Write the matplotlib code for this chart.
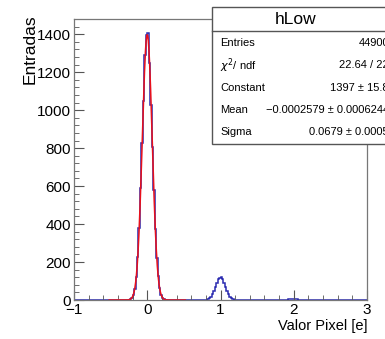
import numpy as np
import matplotlib
matplotlib.use('Agg')
import matplotlib.pyplot as plt
from matplotlib.ticker import MultipleLocator

plt.rcParams['font.family'] = ['Liberation Sans', 'DejaVu Sans']

# histogram hLow: 200 bins of 0.02 between -1 and 3
bin_lo, bin_hi, nbins = -1.0, 3.0, 200
# counts, per bin, starting at the given lower edge
peak0_start = -0.26
peak0_counts = [1, 4, 10, 25, 58, 120, 225, 380, 589, 826, 1047, 1290, 1395,
                1405, 1246, 1026, 805, 579, 372, 220, 125, 62, 27, 12, 3, 1]
peak1_start = 0.80
peak1_counts = [2, 4, 9, 17, 30, 48, 70, 90, 108, 118,
                120, 110, 92, 70, 50, 31, 17, 9, 4, 2]
peak2_start = 1.86
peak2_counts = [1, 1, 2, 3, 3, 4, 5, 4, 4, 3, 2, 2, 1, 1]

# gaus fit parameters shown in the stats box
fit_const, fit_mean, fit_sigma = 1397.0, -0.0002579, 0.0679
fit_range = (-0.52, 0.52)

stats_rows = [("Entries", "44900"),
              ("$\\chi^2$/ ndf", "22.64 / 22"),
              ("Constant", "1397 \u00b1 15.8"),
              ("Mean", "\u22120.0002579 \u00b1 0.0006244"),
              ("Sigma", "0.0679 \u00b1 0.0005")]

edges = np.linspace(bin_lo, bin_hi, nbins + 1)
counts = np.zeros(nbins)
width = (bin_hi - bin_lo) / nbins
for start, vals in [(peak0_start, peak0_counts), (peak1_start, peak1_counts),
                    (peak2_start, peak2_counts)]:
    i0 = int(round((start - bin_lo) / width))
    counts[i0:i0 + len(vals)] = vals

fig = plt.figure(figsize=(3.85, 3.39), dpi=100)
ax = fig.add_axes([74 / 385, 1 - 300 / 339, (367 - 74) / 385, (300 - 19) / 339])

ax.stairs(counts, edges, color='#2a2ab0', lw=1.1)
xf = np.linspace(fit_range[0], fit_range[1], 400)
ax.plot(xf, fit_const * np.exp(-0.5 * ((xf - fit_mean) / fit_sigma) ** 2),
        color='#e8101c', lw=1.1)

ax.set_xlim(bin_lo, bin_hi)
ax.set_ylim(0, 1480)
ax.xaxis.set_major_locator(MultipleLocator(1))
ax.xaxis.set_minor_locator(MultipleLocator(0.2))
ax.yaxis.set_major_locator(MultipleLocator(200))
ax.yaxis.set_minor_locator(MultipleLocator(40))
ax.tick_params(which='both', direction='in', top=False, right=False,
               labelsize=11, color='#555555')
ax.tick_params(which='major', length=7, pad=2)
ax.tick_params(which='minor', length=3.5)
for s in ax.spines.values():
    s.set_color('#777777')
    s.set_linewidth(0.9)
ax.set_xticks([-1, 0, 1, 2, 3])
ax.set_xticklabels(['\u22121', '0', '1', '2', '3'])

fig.text(30 / 385, 1 - 14 / 339, 'Entradas', rotation=90, ha='center', va='top',
         fontsize=12.5)
fig.text(367 / 385, 1 - 326 / 339, 'Valor Pixel [e]', ha='right', va='center',
         fontsize=10.5)

# stats box
bx0, by0, by1 = 212 / 385, 1 - 144 / 339, 1 - 7 / 339
box = plt.Rectangle((bx0, by0), 1.1 - bx0, by1 - by0, transform=fig.transFigure,
                    facecolor='white', edgecolor='#555555', lw=1.0, zorder=5)
fig.add_artist(box)
fig.add_artist(plt.Line2D([bx0, 1.1], [1 - 31 / 339] * 2, transform=fig.transFigure,
                          color='#555555', lw=1.0, zorder=6))
fig.text(296 / 385, 1 - 19 / 339, 'hLow', ha='center', va='center', fontsize=12.5,
         zorder=7)
for k, (name, val) in enumerate(stats_rows):
    y = 1 - (43 + 22.3 * k) / 339
    fig.text(220 / 385, y, name, ha='left', va='center', fontsize=8, zorder=7)
    fig.text(389 / 385, y, val, ha='right', va='center', fontsize=8, zorder=7)

fig.savefig('out.png', dpi=100)
